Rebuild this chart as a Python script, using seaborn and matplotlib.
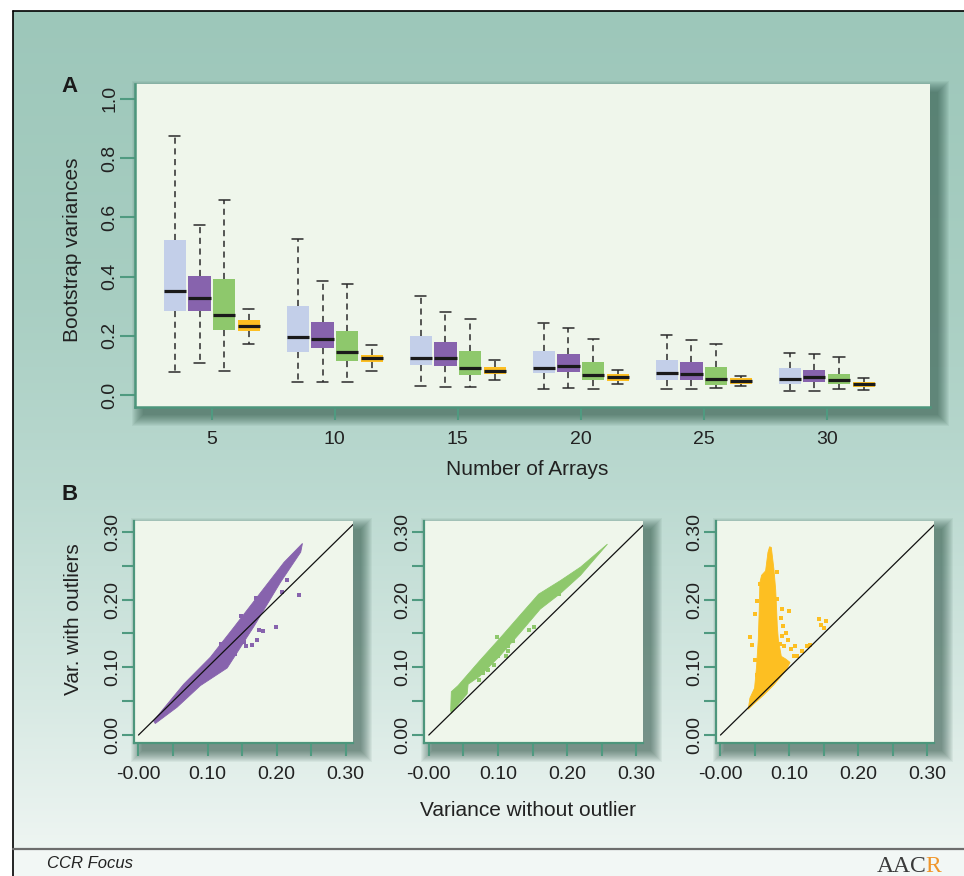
import numpy as np
import pandas as pd
import matplotlib
matplotlib.use("Agg")
import matplotlib.pyplot as plt
from matplotlib.patches import Rectangle
import seaborn as sns

# ---------------- Panel A data (box statistics) ----------------
array_counts = [5, 10, 15, 20, 25, 30]
methods = ["Method 1", "Method 2", "Method 3", "Method 4"]
box_colors = ["#c3cfe9", "#8763ad", "#8ec86c", "#fdbf22"]

m1_low = [0.078, 0.044, 0.030, 0.020, 0.021, 0.015]
m1_q1 = [0.283, 0.145, 0.102, 0.075, 0.051, 0.038]
m1_med = [0.351, 0.196, 0.126, 0.093, 0.075, 0.055]
m1_q3 = [0.523, 0.302, 0.198, 0.148, 0.117, 0.091]
m1_high = [0.875, 0.528, 0.336, 0.243, 0.202, 0.143]

m2_low = [0.107, 0.044, 0.028, 0.025, 0.021, 0.015]
m2_q1 = [0.283, 0.159, 0.098, 0.078, 0.051, 0.045]
m2_med = [0.328, 0.189, 0.126, 0.098, 0.073, 0.061]
m2_q3 = [0.403, 0.248, 0.178, 0.138, 0.111, 0.084]
m2_high = [0.575, 0.386, 0.280, 0.227, 0.185, 0.139]

m3_low = [0.082, 0.046, 0.028, 0.022, 0.023, 0.020]
m3_q1 = [0.219, 0.115, 0.068, 0.051, 0.035, 0.038]
m3_med = [0.272, 0.144, 0.091, 0.068, 0.055, 0.050]
m3_q3 = [0.393, 0.218, 0.148, 0.111, 0.094, 0.070]
m3_high = [0.658, 0.376, 0.256, 0.191, 0.172, 0.129]

m4_low = [0.171, 0.082, 0.051, 0.039, 0.030, 0.019]
m4_q1 = [0.216, 0.112, 0.072, 0.049, 0.038, 0.029]
m4_med = [0.232, 0.126, 0.083, 0.061, 0.047, 0.036]
m4_q3 = [0.255, 0.137, 0.096, 0.073, 0.059, 0.043]
m4_high = [0.292, 0.168, 0.120, 0.085, 0.065, 0.057]

y_ticks_a = [0.0, 0.2, 0.4, 0.6, 0.8, 1.0]
y_ticklabels_a = ["0.0", "0.2", "0.4", "0.6", "0.8", "1.0"]

# ---------------- Panel B data (point clouds outlined + scattered outliers) ----------------
b_ticks = [0.0, 0.05, 0.10, 0.15, 0.20, 0.25, 0.30]
b_xticklabels = ["-0.00", "", "0.10", "", "0.20", "", "0.30"]
b_yticklabels = ["0.00", "", "0.10", "", "0.20", "", "0.30"]

purple_upper_x = [0.0218, 0.0654, 0.1042, 0.1381, 0.1721, 0.2108, 0.2375]
purple_upper_y = [0.0210, 0.0750, 0.1150, 0.1590, 0.2040, 0.2550, 0.2829]
purple_lower_x = [0.2350, 0.2060, 0.1670, 0.1285, 0.0897, 0.0558, 0.0243]
purple_lower_y = [0.2700, 0.2260, 0.1600, 0.0990, 0.0730, 0.0410, 0.0170]
purple_dots_x = [0.2326, 0.2147, 0.2084, 0.1997, 0.1808, 0.1744, 0.1721, 0.1648,
                 0.1551, 0.1526, 0.1405, 0.1188, 0.1706, 0.1478]
purple_dots_y = [0.2062, 0.2290, 0.2111, 0.1592, 0.1543, 0.1558, 0.1410, 0.1335,
                 0.1320, 0.1370, 0.1202, 0.1350, 0.2018, 0.1755]

green_upper_x = [0.0316, 0.0326, 0.0423, 0.0738, 0.1029, 0.1320, 0.1587, 0.1902, 0.2194, 0.2582]
green_upper_y = [0.0361, 0.0640, 0.0730, 0.1100, 0.1430, 0.1770, 0.2080, 0.2280, 0.2480, 0.2819]
green_lower_x = [0.2388, 0.2194, 0.1902, 0.1611, 0.1320, 0.1029, 0.0738, 0.0568, 0.0554, 0.0447, 0.0326]
green_lower_y = [0.2590, 0.2360, 0.2090, 0.1860, 0.1510, 0.1170, 0.0870, 0.0750, 0.0610, 0.0480, 0.0322]
green_dots_x = [0.0981, 0.1141, 0.1116, 0.1004, 0.0946, 0.0859, 0.0786, 0.0719,
                0.1223, 0.1296, 0.1441, 0.1514, 0.1878, 0.1150]
green_dots_y = [0.1444, 0.1236, 0.1172, 0.1172, 0.1028, 0.0964, 0.0915, 0.0806,
                0.1384, 0.1533, 0.1548, 0.1598, 0.2087, 0.1310]

yellow_outline_x = [0.0403, 0.0427, 0.0495, 0.0524, 0.0549, 0.0563, 0.0572, 0.0597, 0.0655,
                    0.0689, 0.0713, 0.0738, 0.0776, 0.0801, 0.0815, 0.0825, 0.0840, 0.0883,
                    0.0946, 0.1009, 0.0971, 0.0898, 0.0776, 0.0630, 0.0485]
yellow_outline_y = [0.0381, 0.0544, 0.0693, 0.1013, 0.1410, 0.1855, 0.2250, 0.2359, 0.2423,
                    0.2695, 0.2779, 0.2770, 0.2448, 0.2151, 0.1855, 0.1607, 0.1410, 0.1162,
                    0.1123, 0.1073, 0.0990, 0.0890, 0.0742, 0.0593, 0.0460]
yellow_dots_x = [0.0825, 0.0427, 0.0461, 0.0495, 0.0524, 0.0568, 0.0534, 0.0495, 0.0815,
                 0.0888, 0.0994, 0.0873, 0.0912, 0.0946, 0.0898, 0.0980, 0.0864, 0.0922,
                 0.1077, 0.1019, 0.1067, 0.1116, 0.1189, 0.1262, 0.1300, 0.1431, 0.1456,
                 0.1504, 0.1528]
yellow_dots_y = [0.2408, 0.1450, 0.1335, 0.1113, 0.0890, 0.2226, 0.1978, 0.1780, 0.2003,
                 0.1865, 0.1830, 0.1731, 0.1617, 0.1508, 0.1459, 0.1410, 0.1350, 0.1310,
                 0.1320, 0.1271, 0.1162, 0.1162, 0.1236, 0.1310, 0.1335, 0.1717, 0.1622,
                 0.1583, 0.1681]

purple_c = "#8763ad"
green_c = "#8ec86c"
yellow_c = "#fdbf22"

# ---------------- style ----------------
sns.set_theme(style="ticks")
plt.rcParams["font.family"] = ["Liberation Sans", "DejaVu Sans"]

W, H = 964, 876
fig = plt.figure(figsize=(W / 100, H / 100), dpi=100)


def frac(left, top, right, bottom):
    return [left / W, 1 - bottom / H, (right - left) / W, (bottom - top) / H]


# background layer in pixel coordinates
bg = fig.add_axes([0, 0, 1, 1], zorder=-10)
ys = np.arange(11, 849)
stops_y = [11, 300, 500, 700, 848]
stops_c = np.array([[157, 199, 186], [168, 206, 194], [188, 218, 209],
                    [215, 233, 227], [238, 245, 242]]) / 255.0
grad = np.stack([np.interp(ys, stops_y, stops_c[:, k]) for k in range(3)], axis=-1)[:, None, :]
bg.imshow(grad, extent=[13, W, 848, 11], aspect="auto", interpolation="bilinear", zorder=0)
bg.add_patch(Rectangle((13, 848), W - 13, H - 848, facecolor="#f2f7f5", lw=0, zorder=0))
bg.plot([13, W], [11, 11], color="black", lw=1.2, zorder=3)
bg.plot([13, 13], [11, H], color="black", lw=1.2, zorder=3)
bg.plot([13, W], [848.5, 848.5], color="#6d6d6d", lw=1.6, zorder=3)
bg.text(47, 864, "CCR Focus", fontsize=12, fontstyle="italic", color="#222222",
        ha="left", va="center", zorder=4)
bg.text(877, 867, "AAC", fontsize=17, family="Liberation Serif", color="#3a3a3a",
        ha="left", va="center", zorder=4)
bg.text(925, 867, "R", fontsize=17, family="Liberation Serif", color="#f0962a",
        ha="left", va="center", zorder=4)
bg.text(69, 86, "A", fontsize=16, fontweight="bold", color="#1a1a1a", ha="center", va="center")
bg.text(70, 495, "B", fontsize=16, fontweight="bold", color="#1a1a1a", ha="center", va="center")


def shadow(l, t, r, b, off=8, n=12):
    for k in range(n):
        e = k * 1.0
        bg.add_patch(Rectangle((l + off - e, t + off - e), (r - l) + 2 * e, (b - t) + 2 * e,
                               facecolor="#1e4638", alpha=0.06, lw=0, zorder=1))


boxA = (135, 84, 930, 407)
boxB = [(134, 521, 352.5, 742.5), (424.3, 521, 643.3, 742.5), (716, 521, 934, 742.5)]
shadow(*boxA)
for bb in boxB:
    shadow(*bb)
bg.set_xlim(0, W)
bg.set_ylim(H, 0)
bg.axis("off")

spine_c = "#4d967c"
tick_c = "#4f9a80"
panel_bg = "#eff6eb"


def style_axes(ax, lw, xlen, ylen, xpad, ypad):
    ax.set_facecolor(panel_bg)
    for s in ["top", "right"]:
        ax.spines[s].set_visible(False)
    for s in ["left", "bottom"]:
        ax.spines[s].set_color(spine_c)
        ax.spines[s].set_linewidth(lw)
    ax.tick_params(axis="x", direction="out", length=xlen, width=1.5, color=tick_c,
                   labelsize=14, labelcolor="#222222", pad=xpad)
    ax.tick_params(axis="y", direction="out", length=ylen, width=1.5, color=tick_c,
                   labelsize=14, labelcolor="#222222", pad=ypad)


# ---------------- Panel A ----------------
stats_by_method = [
    (m1_low, m1_q1, m1_med, m1_q3, m1_high),
    (m2_low, m2_q1, m2_med, m2_q3, m2_high),
    (m3_low, m3_q1, m3_med, m3_q3, m3_high),
    (m4_low, m4_q1, m4_med, m4_q3, m4_high),
]
rows = []
for method, st in zip(methods, stats_by_method):
    for i, n in enumerate(array_counts):
        for arr in st:
            rows.append({"arrays": str(n), "method": method, "variance": arr[i]})
box_df = pd.DataFrame(rows)

axA = fig.add_axes(frac(*boxA))
sns.boxplot(data=box_df, x="arrays", y="variance", hue="method",
            order=[str(n) for n in array_counts], hue_order=methods,
            palette=box_colors, saturation=1, whis=(0, 100), width=0.8, gap=0.1,
            showfliers=False, legend=False, linecolor="#262626", linewidth=1.1,
            boxprops=dict(edgecolor="none", linewidth=0),
            medianprops=dict(color="#1a1a1a", linewidth=2.3),
            whiskerprops=dict(color="#2a2a2a", linewidth=1.1, linestyle=(0, (4, 3))),
            capprops=dict(color="#2a2a2a", linewidth=1.1),
            ax=axA)
style_axes(axA, 1.8, 9.5, 10.5, 7.5, 1.5)
axA.set_xlim(-0.625, 5.84)
axA.set_ylim(-0.04, 1.05)
axA.set_yticks(y_ticks_a)
axA.set_yticklabels(y_ticklabels_a, rotation=90, va="center")
axA.set_xlabel("Number of Arrays", fontsize=15, color="#222222")
axA.set_ylabel("Bootstrap variances", fontsize=15, color="#222222")
axA.xaxis.label.set_va("center")
axA.yaxis.label.set_va("center")
axA.xaxis.set_label_coords((527.5 - 135) / 795, (407 - 469) / 323)
axA.yaxis.set_label_coords((72 - 135) / 795, (407 - 250) / 323)

# ---------------- Panel B ----------------
clouds = [
    (purple_upper_x + purple_lower_x, purple_upper_y + purple_lower_y,
     purple_dots_x, purple_dots_y, purple_c),
    (green_upper_x + green_lower_x, green_upper_y + green_lower_y,
     green_dots_x, green_dots_y, green_c),
    (yellow_outline_x, yellow_outline_y, yellow_dots_x, yellow_dots_y, yellow_c),
]
axesB = []
for bb, (px, py, dx, dy, col) in zip(boxB, clouds):
    ax = fig.add_axes(frac(*bb))
    style_axes(ax, 1.6, 9, 8.9, 8.0, 0.5)
    ax.fill(px, py, color=col, lw=0.6, edgecolor=col, zorder=2)
    sns.scatterplot(x=dx, y=dy, color=col, s=5, marker="s", linewidth=0, ax=ax, zorder=3)
    ax.plot([0, 0.33], [0, 0.33], color="#111111", lw=0.9, zorder=4)
    ax.set_xlim(-0.0065, 0.310)
    ax.set_ylim(-0.011, 0.316)
    ax.set_xticks(b_ticks)
    ax.set_xticklabels(b_xticklabels)
    ax.set_yticks(b_ticks)
    ax.set_yticklabels(b_yticklabels, rotation=90, va="center")
    axesB.append(ax)

axesB[0].set_ylabel("Var. with outliers", fontsize=15, color="#222222")
axesB[0].yaxis.label.set_va("center")
axesB[0].yaxis.set_label_coords((74 - 134) / 218.5, (742.5 - 619) / 221.5)
axesB[1].set_xlabel("Variance without outlier", fontsize=15, color="#222222")
axesB[1].xaxis.label.set_va("center")
axesB[1].xaxis.set_label_coords((527.5 - 424.3) / 219, (742.5 - 810) / 221.5)

fig.savefig("out.png", dpi=100)
